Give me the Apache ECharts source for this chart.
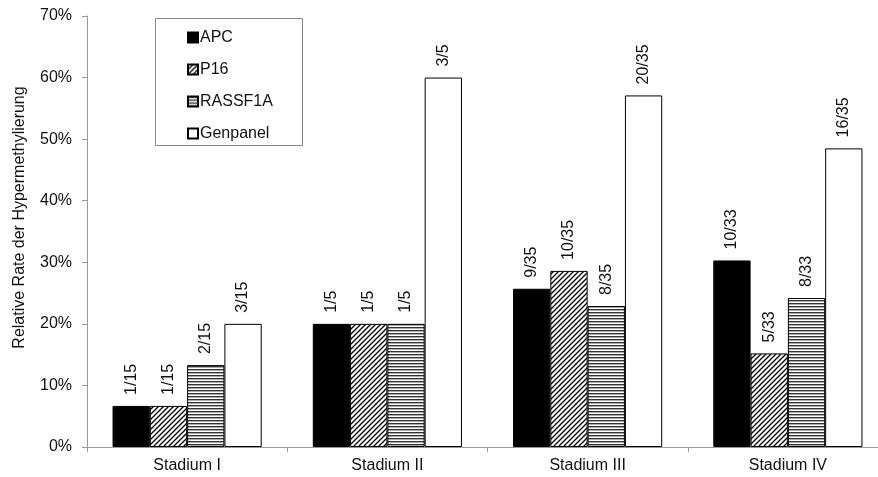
<!DOCTYPE html>
<html><head><meta charset="utf-8">
<script src="https://cdn.jsdelivr.net/npm/echarts@6/dist/echarts.min.js"></script>
<style>html,body{margin:0;padding:0;background:#fff}#c{width:878px;height:477px}</style>
</head><body><div id="c"></div>
<script>
var categories = ['Stadium I', 'Stadium II', 'Stadium III', 'Stadium IV'];
var seriesNames = ['APC', 'P16', 'RASSF1A', 'Genpanel'];
var apc = [6.67, 20.0, 25.7, 30.3];
var p16 = [6.67, 20.0, 28.6, 15.2];
var rassf1a = [13.3, 20.0, 22.9, 24.2];
var genpanel = [20.0, 60.0, 57.1, 48.5];
var apcLabels = ['1/15', '1/5', '9/35', '10/33'];
var p16Labels = ['1/15', '1/5', '10/35', '5/33'];
var rassf1aLabels = ['2/15', '1/5', '8/35', '8/33'];
var genpanelLabels = ['3/15', '3/5', '20/35', '16/35'];
var yTicks = [0, 10, 20, 30, 40, 50, 60, 70];

function diagPattern() {
  var c = document.createElement('canvas');
  c.width = 5; c.height = 5;
  var g = c.getContext('2d');
  g.fillStyle = '#fff'; g.fillRect(0, 0, 5, 5);
  g.strokeStyle = '#000'; g.lineWidth = 1.3;
  g.beginPath();
  g.moveTo(-1, 6); g.lineTo(6, -1);
  g.moveTo(-1, 1); g.lineTo(1, -1);
  g.moveTo(4, 6); g.lineTo(6, 4);
  g.stroke();
  return c;
}
function horizPattern() {
  var c = document.createElement('canvas');
  c.width = 4; c.height = 3;
  var g = c.getContext('2d');
  g.fillStyle = '#fff'; g.fillRect(0, 0, 4, 3);
  g.fillStyle = '#333'; g.fillRect(0, 0, 4, 1.4);
  return c;
}

var chart = echarts.init(document.getElementById('c'), null, {renderer: 'canvas'});
var font = 'Liberation Sans, Arial, sans-serif';
function mk(name, data, labels, color) {
  return {
    name: name, type: 'bar', data: data,
    barGap: '0%', barCategoryGap: '25.5%',
    itemStyle: {color: color, borderColor: '#000', borderWidth: 1},
    label: {
      show: true, position: 'top', rotate: 90, align: 'left', verticalAlign: 'middle',
      distance: 11, color: '#111', fontSize: 16, fontFamily: font,
      formatter: function (p) { return labels[p.dataIndex]; }
    }
  };
}
chart.setOption({
  animation: false,
  textStyle: {fontFamily: font},
  grid: {left: 87, width: 801, top: 16, bottom: 30, containLabel: false, outerBoundsMode: 'none'},
  graphic: [{
    type: 'rect',
    shape: {x: 155.5, y: 18.5, width: 147, height: 127},
    style: {fill: 'none', stroke: '#888', lineWidth: 1},
    silent: true, z: 1
  }],
  legend: {
    orient: 'vertical', left: 187, top: 29,
    padding: 0,
    icon: 'rect',
    itemWidth: 10, itemHeight: 10, itemGap: 15,
    textStyle: {fontSize: 16, lineHeight: 17, color: '#111', fontFamily: font, padding: [0, 0, 0, -3]},
    data: seriesNames
  },
  xAxis: {
    type: 'category', data: categories,
    axisLine: {lineStyle: {color: '#999'}},
    axisTick: {show: true, length: 5, lineStyle: {color: '#999'}},
    axisLabel: {color: '#111', fontSize: 16, margin: 11}
  },
  yAxis: {
    type: 'value', min: 0, max: 70, interval: 10,
    name: 'Relative Rate der Hypermethylierung', nameLocation: 'middle', nameGap: 59,
    nameTextStyle: {fontSize: 16, color: '#111', padding: [0, 0, 0, 28]},
    axisLine: {show: true, lineStyle: {color: '#999'}},
    axisTick: {show: true, length: 5, lineStyle: {color: '#999'}},
    splitLine: {show: false},
    axisLabel: {color: '#111', fontSize: 16, margin: 15, formatter: function (v) { return yTicks.indexOf(v) >= 0 ? v + '%' : ''; }}
  },
  series: [
    mk('APC', apc, apcLabels, '#000'),
    mk('P16', p16, p16Labels, {image: diagPattern(), repeat: 'repeat'}),
    mk('RASSF1A', rassf1a, rassf1aLabels, {image: horizPattern(), repeat: 'repeat'}),
    mk('Genpanel', genpanel, genpanelLabels, '#fff')
  ]
});
</script></body></html>
